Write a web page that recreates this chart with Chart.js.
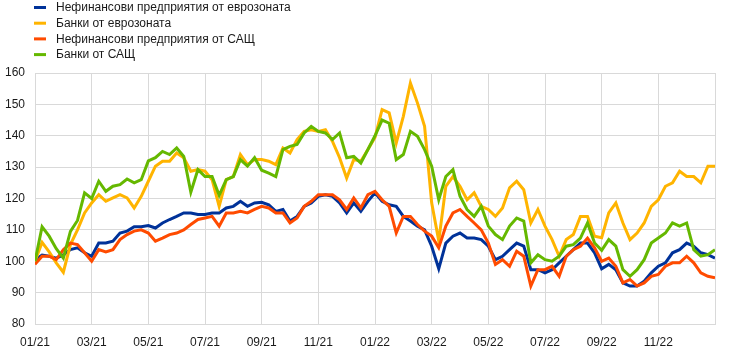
<!DOCTYPE html>
<html>
<head>
<meta charset="utf-8">
<script src="https://cdn.jsdelivr.net/npm/chart.js@4/dist/chart.umd.min.js"></script>
<style>
  html, body { margin: 0; padding: 0; background: #fff; }
  #wrap { position: relative; width: 744px; height: 356px; }
</style>
</head>
<body>
<div id="wrap"><canvas id="c" width="744" height="356"></canvas></div>
<script>
// Tick labels every two months (x in months since 01/21)
const tickLabels = ['01/21','03/21','05/21','07/21','09/21','11/21','01/22','03/22','05/22','07/22','09/22','11/22'];

const seriesNames = [
  'Нефинансови предприятия от еврозоната',
  'Банки от еврозоната',
  'Нефинансови предприятия от САЩ',
  'Банки от САЩ'
];

// Values sampled every quarter month, 01/21 .. end 12/22
const euroNFC = [
  100.5,102,101.6,101,102,103.7,104.3,102.7,101.6,105.8,105.8,106.4,109,109.6,111,111,
  111.4,110.6,112.2,113.3,114.3,115.4,115.4,114.9,114.9,115.4,115.4,117,117.5,119.1,117.5,118.6,
  118.8,118,115.9,116.5,112.8,114.3,117.5,118.6,120.7,121.2,120.7,118.6,115.4,118.6,115.9,119.1,
  121.8,119.1,118,117.5,114.3,112.8,111.2,110,104.8,97.6,105.8,108,109,107.4,107.4,106.9,
  104.8,100.5,101.6,103.7,105.8,104.8,97.3,97.3,96.3,97.3,99.5,101.6,103.7,105.8,105.8,102.7,
  97.6,99,97.3,93.1,92.1,92.1,93.6,96.3,98.4,99.5,102.7,103.7,105.8,104.8,102.7,102.1,
  101
];
const euroBanks = [
  100,106,103,99.5,96.5,105.3,110,115.4,118.6,121.2,119.1,120.2,121.2,120.2,117,120.7,
  125.5,130.3,131.9,131.9,134.5,133,128.7,129.2,128.7,126,117.5,126,127,134,130.8,132.4,
  132.4,131.9,130.8,136.1,134.5,138.8,141.4,141.9,141.4,141.9,138.2,133,126.5,132.4,131.9,135.6,
  139.5,148.3,147.3,137.7,146.2,156.8,150.4,143,118.6,106.5,123.9,127,123.9,119.6,121.8,117.5,
  116.5,114.3,117,123.4,125.5,122.8,112.2,116.5,111.2,106.9,101.6,106.9,108.5,114.3,114.3,108,
  107.5,115.4,118.6,112.2,106.9,109,112.2,117.5,119.6,123.9,125,128.7,127,127,125,130.3,
  130.3
];
const usNFC = [
  99,101.6,101.6,100.5,103.7,105.8,105.3,102.7,100,103.7,103,103.7,106.9,108.5,109.6,110,
  109,106.4,107.4,108.5,109,110,111.7,113.3,113.8,114.3,111.2,115.4,115.4,115.9,115.4,116.5,
  117.5,117,115.4,115.4,112.2,113.8,117.5,119.1,121.2,121.2,121.2,119.6,116.5,120.2,117,121.2,
  122.3,119.6,117.5,109,114.3,114.3,111.7,109.6,108,104.3,111.2,115.4,116.5,114.3,112.2,110,
  105.8,99,100.5,98.4,103.2,101.6,92.1,97.3,97.3,98.4,95.2,101.6,103.7,104.8,107.4,104.3,
  100,101,98.4,93.1,94.2,92.1,93.1,95.2,95.8,98.4,99.5,99.5,101.6,99.5,96.3,95.2,
  94.7
];
const usBanks = [
  100,111,108,104,101,109.5,113,121.8,120,125.5,122.3,123.9,124.4,126.2,125,126,
  132,133,135,134,136.1,133.4,122,129.2,127,127,121,126,127,132.4,130.3,133,
  129,128.1,127,135.6,136.6,137.2,140.9,143,141.4,140.9,138.8,140.9,133,133.4,131.3,135.6,
  140,145,144,132.4,134,141.4,139.8,135.6,130.3,119.6,127,129.2,120.7,116.5,114.3,117.5,
  111.2,108.5,106.9,111.2,113.8,112.8,99.5,102.1,100.5,100,101.6,104.8,105.3,107.4,112.2,105.8,
  103.5,106.9,104.8,97.3,95.2,97.3,100.5,105.8,107.4,109,112.2,111.2,112.2,103.7,101.6,102.1,
  103.7
];

const seriesValues = [euroNFC, euroBanks, usNFC, usBanks];
const seriesColors = ['#003299', '#ffb400', '#ff4b00', '#65b800'];
const drawOrder = [4, 3, 2, 1];

const toPoints = arr => arr.map((v, i) => ({ x: i / 4, y: v }));

const legendPlugin = {
  id: 'stackedLegend',
  afterDraw(chart) {
    const ctx = chart.ctx;
    ctx.save();
    ctx.font = '12px "Liberation Sans", Arial, sans-serif';
    ctx.textBaseline = 'middle';
    ctx.textAlign = 'left';
    chart.data.datasets.forEach((ds, i) => {
      const y = 7.5 + i * 15.7;
      ctx.fillStyle = ds.borderColor;
      ctx.fillRect(34, y - 1.5, 12, 3);
      ctx.fillStyle = '#1a1a1a';
      ctx.fillText(ds.label, 56, y + 0.5);
    });
    ctx.restore();
  }
};

new Chart(document.getElementById('c'), {
  type: 'line',
  data: {
    datasets: seriesValues.map((vals, i) => ({
      label: seriesNames[i],
      data: toPoints(vals),
      borderColor: seriesColors[i],
      backgroundColor: seriesColors[i],
      borderWidth: 3,
      pointRadius: 0,
      tension: 0,
      order: drawOrder[i]
    }))
  },
  options: {
    responsive: false,
    animation: false,
    devicePixelRatio: 1,
    layout: { padding: { top: 73, left: 5, right: 29, bottom: 0 } },
    plugins: { legend: { display: false }, tooltip: { enabled: false } },
    scales: {
      x: {
        type: 'linear',
        min: 0,
        max: 24,
        afterFit: s => { s.height = 32; },
        grid: { color: '#d9d9d9', lineWidth: 1, drawTicks: false },
        border: { color: '#d9d9d9' },
        ticks: {
          stepSize: 2,
          padding: 11,
          maxRotation: 0,
          autoSkip: false,
          color: '#1a1a1a',
          font: { family: '"Liberation Sans", Arial, sans-serif', size: 12 },
          callback: v => tickLabels[v / 2] || ''
        }
      },
      y: {
        min: 80,
        max: 160,
        afterFit: s => { s.width = 30; },
        grid: { color: '#d9d9d9', lineWidth: 1, drawTicks: false },
        border: { color: '#d9d9d9' },
        ticks: {
          stepSize: 10,
          padding: 10,
          color: '#1a1a1a',
          font: { family: '"Liberation Sans", Arial, sans-serif', size: 12 }
        }
      }
    }
  },
  plugins: [legendPlugin]
});
</script>
</body>
</html>
